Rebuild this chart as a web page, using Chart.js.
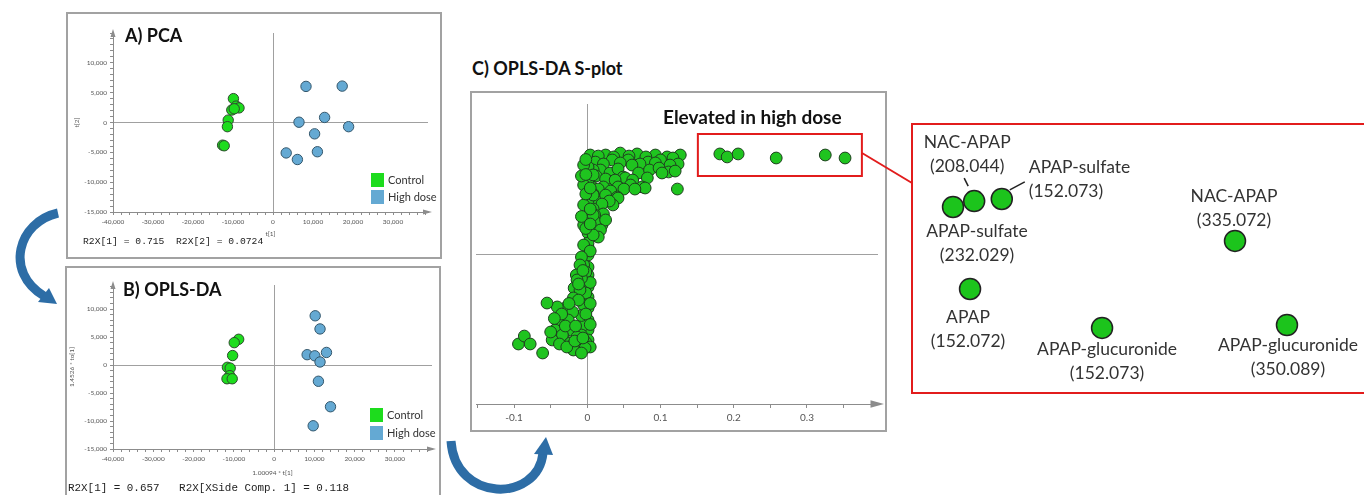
<!DOCTYPE html>
<html>
<head>
<meta charset="utf-8">
<script src="https://cdn.jsdelivr.net/npm/chart.js@4.4.1/dist/chart.umd.min.js"></script>
<style>
  body { margin: 0; width: 1364px; height: 495px; overflow: hidden; background: #fff; position: relative; font-family: Lato, sans-serif; }
  .panel { position: absolute; box-sizing: border-box; border: 2px solid #a2a2a2; background: #fff; }
  .panel canvas { position: absolute; left: 0; top: 0; }
  .ttl { position: absolute; font-weight: bold; font-size: 18px; line-height: 22px; color: #111; white-space: nowrap; }
  .foot { position: absolute; font-family: "Liberation Mono", monospace; color: #222; white-space: pre; line-height: 12px; }
  #overlay { position: absolute; left: 0; top: 0; pointer-events: none; }
</style>
</head>
<body>

<div class="panel" style="left:66px;top:12px;width:376px;height:247px"><canvas id="pca" width="372" height="243"></canvas></div>
<div class="panel" style="left:65px;top:266px;width:376px;height:240px"><canvas id="opls" width="372" height="236"></canvas></div>
<div class="panel" style="left:470px;top:91px;width:417px;height:341px"><canvas id="splot" width="413" height="337"></canvas></div>
<div class="panel" style="left:911px;top:123px;width:464px;height:271px;border-color:#e21c1c"><canvas id="zoomed" width="460" height="267"></canvas></div>

<div class="ttl" style="left:125px;top:24px">A) PCA</div>
<div class="ttl" style="left:123px;top:278px">B) OPLS-DA</div>
<div class="ttl" style="left:472px;top:57px">C) OPLS-DA S-plot</div>
<div class="ttl" style="left:663px;top:106px;font-size:19px">Elevated in high dose</div>
<div class="foot" style="left:83px;top:236px;font-size:9.7px">R2X[1] = 0.715  R2X[2] = 0.0724</div>
<div class="foot" style="left:68px;top:482px;font-size:10.9px">R2X[1] = 0.657   R2X[XSide Comp. 1] = 0.118</div>

<svg id="overlay" width="1364" height="495">
  <line x1="862" y1="153" x2="912" y2="183" stroke="#e21c1c" stroke-width="2"/>
  <path d="M 58 213 C 18 222, 4 272, 44 296" fill="none" stroke="#2d6da6" stroke-width="9"/>
  <polygon points="57,304 38,302 49,288" fill="#2d6da6"/>
  <path d="M 451 441 C 455 503, 538 503, 543 453" fill="none" stroke="#2d6da6" stroke-width="9"/>
  <polygon points="546,437 534,454 553,455" fill="#2d6da6"/>
</svg>

<script>
Chart.defaults.font.family = 'Lato';

// A) PCA scores
const pcaControlX = [-9900, -9200, -8500, -10300, -9700, -11200, -11400, -12600, -12200];
const pcaControlY = [4000, 2750, 2450, 2100, 2300, 400, -700, -3800, -3900];
const pcaHighX = [8250, 17300, 6500, 12900, 18900, 10400, 3300, 6100, 11100];
const pcaHighY = [6050, 6100, 50, 850, -700, -1900, -5100, -6200, -4900];

// B) OPLS-DA scores
const oplsControlX = [-8800, -9900, -10300, -11600, -10900, -11000, -11700, -10400];
const oplsControlY = [4600, 4000, 1700, -400, -550, -1900, -2450, -2450];
const oplsHighX = [10200, 11400, 8200, 10100, 13000, 11400, 11000, 14000, 9700];
const oplsHighY = [8800, 6450, 1850, 1650, 2250, 550, -2900, -7450, -10850];

// C) S-plot, p[1] vs p(corr)[1]
const sUpper = [
  [0.004, 0.660], [0.025, 0.660], [0.045, 0.673], [0.068, 0.667], [0.093, 0.660], [0.109, 0.647], [0.127, 0.660],
  [0.015, 0.653], [0.036, 0.647], [0.057, 0.653], [0.080, 0.647], [0.117, 0.640],
  [0.011, 0.613], [0.034, 0.627], [0.056, 0.627], [0.083, 0.613], [0.100, 0.627], [0.124, 0.600],
  [0.022, 0.600], [0.045, 0.607], [0.072, 0.600], [0.093, 0.607], [0.113, 0.593],
  [0.018, 0.560], [0.031, 0.540], [0.061, 0.593], [0.070, 0.540], [0.085, 0.560], [0.111, 0.547],
  [0.008, 0.560], [0.042, 0.567], [0.098, 0.573], [0.120, 0.553],
  [0.004, 0.473], [0.029, 0.487], [0.049, 0.513], [0.052, 0.507],
  [0.012, 0.520], [0.025, 0.500], [0.038, 0.493], [0.062, 0.493], [0.082, 0.507], [0.102, 0.540],
  [0.022, 0.447], [0.042, 0.447], [0.059, 0.460], [0.075, 0.447], [0.079, 0.440], [0.123, 0.433],
  [0.015, 0.433], [0.032, 0.420], [0.050, 0.433], [0.065, 0.433],
  [0.011, 0.360], [0.041, 0.380], [0.042, 0.373], [0.015, 0.293], [0.035, 0.327],
  [0.008, 0.400], [0.025, 0.393], [0.030, 0.353], [0.020, 0.333],
  [0.008, 0.300], [0.022, 0.267], [0.010, 0.260], [0.008, 0.180], [0.020, 0.193],
  [0.011, 0.213], [0.025, 0.227], [0.018, 0.160], [0.015, 0.113]
];
const sStem = [
  [0.001, 0.580], [0.001, 0.473], [0.001, 0.360], [0.001, 0.247], [0.001, 0.140], [0.001, 0.047],
  [0.001, 0.073], [0.001, -0.007], [0.001, -0.087], [0.001, -0.140], [0.001, -0.220], [0.001, -0.287],
  [0.001, -0.360], [0.001, -0.440], [0.001, -0.507], [0.001, -0.573],
  [-0.005, 0.593], [-0.005, 0.460], [-0.005, 0.327], [-0.005, 0.193], [-0.005, 0.060], [-0.005, -0.073],
  [-0.005, -0.207], [-0.005, -0.340], [-0.005, -0.473], [-0.005, -0.607],
  [0.008, 0.527], [0.008, 0.393], [0.008, 0.260], [0.008, 0.127],
  [-0.008, 0.520], [-0.002, 0.400], [0.004, 0.300], [-0.008, 0.250], [-0.002, 0.170], [0.004, 0.020],
  [-0.008, -0.020], [-0.002, -0.120], [0.004, -0.190], [-0.008, -0.160], [-0.002, -0.260], [0.004, -0.330],
  [-0.008, -0.410], [-0.002, -0.400], [0.004, -0.470], [-0.008, -0.540], [-0.002, -0.590], [0.004, -0.620],
  [0.004, 0.200], [-0.002, 0.630], [0.004, 0.440], [-0.002, 0.530]
];
const sLower = [
  [-0.010, -0.073], [-0.015, -0.140], [-0.014, -0.173], [-0.018, -0.227], [-0.010, -0.240], [-0.019, -0.293],
  [-0.012, -0.307], [-0.030, -0.360], [-0.041, -0.353], [-0.055, -0.327], [-0.020, -0.387], [-0.026, -0.440],
  [-0.040, -0.460], [-0.044, -0.507], [-0.023, -0.507], [-0.033, -0.553], [-0.014, -0.553], [-0.034, -0.540],
  [-0.048, -0.573], [-0.023, -0.593], [-0.020, -0.607], [-0.010, -0.620], [-0.012, -0.640], [-0.019, -0.640],
  [-0.003, -0.627], [-0.006, -0.110], [-0.012, -0.200], [-0.025, -0.330], [-0.035, -0.400], [-0.030, -0.480],
  [-0.038, -0.600], [-0.028, -0.620], [-0.050, -0.520], [-0.016, -0.480], [-0.017, -0.580], [-0.006, -0.560],
  [-0.008, -0.660], [-0.045, -0.430],
  [-0.094, -0.600], [-0.086, -0.547], [-0.078, -0.600], [-0.061, -0.660]
];
const sElevated = [[0.181, 0.667], [0.191, 0.647], [0.206, 0.667], [0.258, 0.640], [0.325, 0.660], [0.352, 0.640]];
const elevBoxX = [0.151, 0.375];
const elevBoxY = [0.52, 0.80];

// D) zoom of the elevated metabolites
const dNames = ['APAP-sulfate', 'NAC-APAP', 'APAP-sulfate', 'NAC-APAP', 'APAP', 'APAP-glucuronide', 'APAP-glucuronide'];
const dMz = ['(232.029)', '(208.044)', '(152.073)', '(335.072)', '(152.072)', '(152.073)', '(350.089)'];
const dX = [8.7, 13.3, 19.3, 70.0, 12.4, 41.1, 81.3];
const dY = [69.3, 71.5, 72.3, 56.6, 38.6, 24.0, 25.1];

// label placement relative to each point, in pixels
const dLabelPos = [
  {dx: 24, dy: 24, align: 'center'},
  {dx: -7, dy: -59, align: 'center', leader: [-10, -23, -6, -15]},
  {dx: 27, dy: -32, align: 'left', leader: [8, -9, 23, -17]},
  {dx: -1, dy: -45, align: 'center'},
  {dx: -2, dy: 28, align: 'center'},
  {dx: 5, dy: 21, align: 'center'},
  {dx: 1, dy: 20, align: 'center'}
];

const GREEN = '#1ddc1d';
const GREEN_EDGE = '#2e4a2e';
const BLUE = '#64a9d3';
const BLUE_EDGE = '#34576c';
const AXIS = '#8c8c8c';

const pts = (xs, ys) => xs.map((x, i) => ({x: x, y: ys[i]}));
const pairs = arr => arr.map(p => ({x: p[0], y: p[1]}));
const zeroOnly = c => (c.tick && Math.abs(c.tick.value) < 1e-9) ? '#a0a0a0' : 'rgba(0,0,0,0)';
const tickRange = (start, stop, step) => {
  const out = [];
  for (let v = start; v <= stop + step * 1e-6; v += step) out.push({value: Math.round(v * 1000) / 1000});
  return out;
};

const axisArrows = {
  id: 'axisArrows',
  afterDraw(chart, args, opts) {
    const {ctx, chartArea: a} = chart;
    ctx.save();
    ctx.fillStyle = opts.color || AXIS;
    if (opts.up) {
      ctx.beginPath();
      ctx.moveTo(a.left, a.top - 4);
      ctx.lineTo(a.left - 2.5, a.top + 4);
      ctx.lineTo(a.left + 2.5, a.top + 4);
      ctx.fill();
    }
    if (opts.right) {
      const s = opts.size || 1;
      ctx.beginPath();
      ctx.moveTo(a.right + 4 * s, a.bottom);
      ctx.lineTo(a.right - 5 * s, a.bottom - 2.5 * s);
      ctx.lineTo(a.right - 5 * s, a.bottom + 2.5 * s);
      ctx.fill();
    }
    ctx.restore();
  }
};

const boxLegend = {
  id: 'boxLegend',
  afterDraw(chart, args, opts) {
    if (!opts.show) return;
    const {ctx, chartArea: a} = chart;
    ctx.save();
    ctx.font = '11px Lato';
    ctx.textBaseline = 'middle';
    chart.data.datasets.forEach((ds, i) => {
      const y = a.bottom - opts.bottom + i * opts.gap;
      const x = a.right - opts.right;
      ctx.fillStyle = ds.backgroundColor;
      ctx.fillRect(x, y - 7, 13, 14);
      ctx.fillStyle = '#333';
      ctx.fillText(ds.label, x + 17, y);
    });
    ctx.restore();
  }
};

const redBox = {
  id: 'redBox',
  afterDatasetsDraw(chart) {
    const {ctx, scales: {x, y}} = chart;
    const x0 = x.getPixelForValue(elevBoxX[0]), x1 = x.getPixelForValue(elevBoxX[1]);
    const y0 = y.getPixelForValue(elevBoxY[1]), y1 = y.getPixelForValue(elevBoxY[0]);
    ctx.save();
    ctx.strokeStyle = '#e21c1c';
    ctx.lineWidth = 2;
    ctx.strokeRect(x0, y0, x1 - x0, y1 - y0);
    ctx.restore();
  }
};

const pointLabels = {
  id: 'pointLabels',
  afterDatasetsDraw(chart) {
    const {ctx} = chart;
    const meta = chart.getDatasetMeta(0);
    ctx.save();
    ctx.font = '17.5px Lato';
    ctx.fillStyle = '#333';
    ctx.textBaseline = 'middle';
    ctx.strokeStyle = '#222';
    ctx.lineWidth = 1.5;
    meta.data.forEach((el, i) => {
      const p = dLabelPos[i];
      ctx.textAlign = p.align;
      ctx.fillText(dNames[i], el.x + p.dx, el.y + p.dy);
      ctx.fillText(dMz[i], el.x + p.dx, el.y + p.dy + 24);
      if (p.leader) {
        ctx.beginPath();
        ctx.moveTo(el.x + p.leader[0], el.y + p.leader[1]);
        ctx.lineTo(el.x + p.leader[2], el.y + p.leader[3]);
        ctx.stroke();
      }
    });
    ctx.restore();
  }
};

const fmtK = v => v === 0 ? '0' : v.toLocaleString('en-US');

function scoreChart(id, cfg) {
  return new Chart(document.getElementById(id), {
    type: 'scatter',
    data: {
      datasets: [
        {label: 'Control', data: cfg.control, backgroundColor: GREEN, borderColor: GREEN_EDGE, borderWidth: 1, pointRadius: 5.2},
        {label: 'High dose', data: cfg.high, backgroundColor: BLUE, borderColor: BLUE_EDGE, borderWidth: 1, pointRadius: 5.2}
      ]
    },
    options: {
      responsive: false,
      animation: false,
      events: [],
      layout: {padding: cfg.pad, autoPadding: false},
      plugins: {
        legend: {display: false},
        tooltip: {enabled: false},
        boxLegend: cfg.legend,
        axisArrows: {up: true, right: true}
      },
      scales: {
        x: {
          type: 'linear', min: -40000, max: cfg.xMax,
          afterBuildTicks: s => { s.ticks = tickRange(-40000, cfg.xMax, 2000); },
          afterFit: s => { s.height = cfg.xh; },
          border: {color: AXIS},
          grid: {color: zeroOnly, tickColor: AXIS, tickLength: 3},
          ticks: {
            autoSkip: false, maxRotation: 0, padding: 3,
            font: {size: 6.5}, color: '#555',
            callback: v => (v % 10000 === 0 && v <= 30000) ? fmtK(v) : ''
          },
          title: {display: true, text: cfg.xTitle, font: {size: 6.5}, color: '#555', padding: {top: 0, bottom: cfg.xtpb}}
        },
        y: {
          type: 'linear', min: -15000, max: cfg.yMax,
          afterBuildTicks: s => { s.ticks = tickRange(-15000, cfg.yMax, 1000); },
          afterFit: s => { s.width = cfg.yw; },
          border: {color: AXIS},
          grid: {color: zeroOnly, tickColor: AXIS, tickLength: 3},
          ticks: {
            autoSkip: false, padding: 3,
            font: {size: 6.5}, color: '#555',
            callback: v => (v % 5000 === 0 && v <= 10000) ? fmtK(v) : ''
          },
          title: {display: true, text: cfg.yTitle, font: {size: 6.5}, color: '#555', padding: {top: cfg.ytpt, bottom: 0}}
        }
      }
    },
    plugins: [boxLegend, axisArrows]
  });
}

scoreChart('pca', {
  control: pts(pcaControlX, pcaControlY),
  high: pts(pcaHighX, pcaHighY),
  pad: {top: 19, right: 12, left: 0, bottom: 13},
  xMax: 38750, yMax: 15000, xh: 32, yw: 45, xtpb: 6, ytpt: 5,
  xTitle: 't[1]', yTitle: 't[2]',
  legend: {show: true, right: 57, bottom: 32, gap: 17}
});

scoreChart('opls', {
  control: pts(oplsControlX, oplsControlY),
  high: pts(oplsHighX, oplsHighY),
  pad: {top: 17, right: 7, left: 0, bottom: 25},
  xMax: 39200, yMax: 14300, xh: 30, yw: 46, xtpb: 2, ytpt: 1,
  xTitle: '1.00094 * t[1]', yTitle: '1.4526 * to[1]',
  legend: {show: true, right: 62, bottom: 34, gap: 18}
});

const sStyle = {backgroundColor: '#1fc41f', borderColor: '#1f3f1f', borderWidth: 1, pointRadius: 5.9};

new Chart(document.getElementById('splot'), {
  type: 'scatter',
  data: {
    datasets: [
      Object.assign({data: pairs(sLower)}, sStyle),
      Object.assign({data: pairs(sStem)}, sStyle),
      Object.assign({data: pairs(sUpper)}, sStyle),
      Object.assign({data: pairs(sElevated)}, sStyle)
    ]
  },
  options: {
    responsive: false,
    animation: false,
    events: [],
    layout: {padding: {top: 11, right: 7, left: 4, bottom: 6}, autoPadding: false},
    plugins: {
      legend: {display: false},
      tooltip: {enabled: false},
      axisArrows: {up: false, right: true, size: 1.5}
    },
    scales: {
      x: {
        type: 'linear', min: -0.152, max: 0.397,
        afterBuildTicks: s => { s.ticks = tickRange(-0.15, 0.35, 0.05); },
        afterFit: s => { s.height = 20; },
        border: {color: AXIS},
        grid: {color: zeroOnly, tickColor: AXIS, tickLength: 4},
        ticks: {
          autoSkip: false, maxRotation: 0, padding: 4,
          font: {size: 10}, color: '#555',
          callback: v => Math.abs(v * 10 - Math.round(v * 10)) < 1e-6 ? String(Math.round(v * 10) / 10) : ''
        }
      },
      y: {
        type: 'linear', min: -1, max: 1,
        afterBuildTicks: s => { s.ticks = tickRange(-1, 1, 0.5); },
        afterFit: s => { s.width = 0; },
        border: {display: false},
        grid: {color: zeroOnly, drawTicks: false},
        ticks: {display: false}
      }
    }
  },
  plugins: [axisArrows, redBox]
});

new Chart(document.getElementById('zoomed'), {
  type: 'scatter',
  data: {
    datasets: [{
      data: pts(dX, dY),
      backgroundColor: '#1cc41c', borderColor: '#222', borderWidth: 1.5, pointRadius: 10.5
    }]
  },
  options: {
    responsive: false,
    animation: false,
    events: [],
    layout: {padding: 0, autoPadding: false},
    plugins: {legend: {display: false}, tooltip: {enabled: false}},
    scales: {
      x: {type: 'linear', display: false, min: 0, max: 100},
      y: {type: 'linear', display: false, min: 0, max: 100}
    }
  },
  plugins: [pointLabels]
});
</script>
</body>
</html>
